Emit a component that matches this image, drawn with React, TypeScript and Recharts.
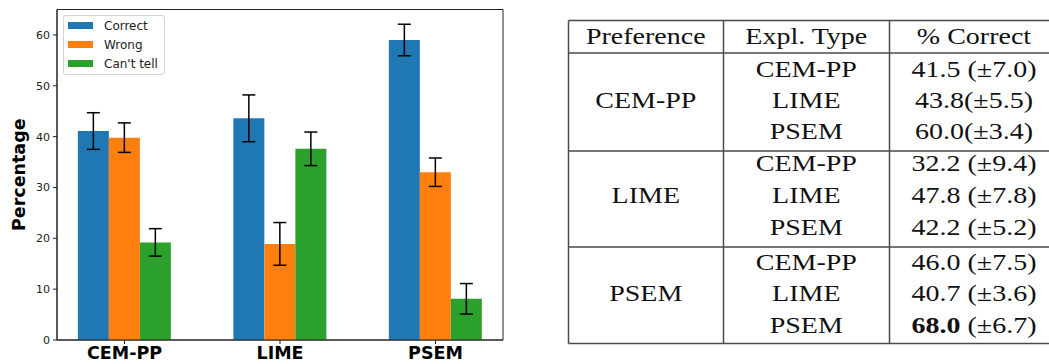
import React from "react";
import {
  BarChart,
  Bar,
  XAxis,
  YAxis,
  ErrorBar,
  Legend,
  Label,
  CartesianGrid,
} from "recharts";

// ---- chart data ----
const categories = ["CEM-PP", "LIME", "PSEM"];
const correct = [41.1, 43.6, 59.0];
const correctErr = [3.6, 4.6, 3.1];
const wrong = [39.8, 18.9, 33.0];
const wrongErr = [2.9, 4.2, 2.8];
const cantTell = [19.2, 37.6, 8.1];
const cantTellErr = [2.7, 3.3, 3.0];
const yTicks = [0, 10, 20, 30, 40, 50, 60];

const seriesNames = ["Correct", "Wrong", "Can't tell"];
const seriesColors = ["#1f77b4", "#ff7f0e", "#2ca02c"];

// ---- table data ----
const tableHeaders = ["Preference", "Expl. Type", "% Correct"];
const preferences = ["CEM-PP", "LIME", "PSEM"];
const explTypes = ["CEM-PP", "LIME", "PSEM"];
const tableMeans = ["41.5", "43.8", "60.0", "32.2", "47.8", "42.2", "46.0", "40.7", "68.0"];
const tableStds = ["7.0", "5.5", "3.4", "9.4", "7.8", "5.2", "7.5", "3.6", "6.7"];
const tableSpaced = [true, false, false, true, true, true, true, true, true];
const boldIndex = 8;

const data = categories.map((name, i) => ({
  name,
  correct: correct[i],
  correctErr: correctErr[i],
  wrong: wrong[i],
  wrongErr: wrongErr[i],
  cantTell: cantTell[i],
  cantTellErr: cantTellErr[i],
}));

const sans = "'DejaVu Sans', sans-serif";
const serif = "'Liberation Serif', serif";

const renderLegend = (props: any) => {
  const payload = [...(props.payload || [])].sort(
    (a: any, b: any) => seriesNames.indexOf(a.value) - seriesNames.indexOf(b.value)
  );
  return (
    <div
      style={{
        boxSizing: "border-box",
        width: 102,
        height: 60,
        border: "1px solid #d3d3d3",
        borderRadius: 3,
        background: "rgba(255,255,255,0.85)",
        display: "flex",
        flexDirection: "column",
        fontFamily: sans,
        fontSize: 12,
        color: "#222",
      }}
    >
      {payload.map((p: any) => (
        <div
          key={p.value}
          style={{ height: 19, display: "flex", alignItems: "center", paddingLeft: 4 }}
        >
          <div style={{ width: 25, height: 7.5, background: p.color, marginRight: 11 }} />
          <span style={{ whiteSpace: "nowrap" }}>{p.value}</span>
        </div>
      ))}
    </div>
  );
};

const colX = [645.8, 806.3, 974];
const headerBaseline = 44;
const rowBaselines = [76.7, 108, 139, 170.5, 202.5, 234.5, 269.5, 301, 332.5];
const hLines = [20.5, 53, 151, 247, 343.5];
const vLines = [568.5, 723.5, 889.5];

const TText = ({ x, y, children }: any) => (
  <text
    transform={`translate(${x} ${y}) scale(1 0.86)`}
    textAnchor="middle"
    fontFamily={serif}
    fontSize={28}
    fill="#111"
  >
    {children}
  </text>
);

const Table = () => (
  <svg
    width={1049}
    height={364}
    style={{ position: "absolute", left: 0, top: 0, pointerEvents: "none" }}
  >
    {hLines.map((y, i) => (
      <line key={"h" + i} x1={568.5} x2={1070} y1={y} y2={y} stroke="#4a4a4a" strokeWidth={1.5} />
    ))}
    {vLines.map((x, i) => (
      <line key={"v" + i} x1={x} x2={x} y1={20.5} y2={343.5} stroke="#4a4a4a" strokeWidth={1.5} />
    ))}
    {tableHeaders.map((h, i) => (
      <TText key={"th" + i} x={colX[i]} y={headerBaseline}>
        {h}
      </TText>
    ))}
    {preferences.map((p, g) => (
      <TText key={"p" + g} x={colX[0]} y={rowBaselines[g * 3 + 1]}>
        {p}
      </TText>
    ))}
    {tableMeans.map((m, i) => (
      <React.Fragment key={"r" + i}>
        <TText x={colX[1]} y={rowBaselines[i]}>
          {explTypes[i % 3]}
        </TText>
        <TText x={colX[2]} y={rowBaselines[i]}>
          <tspan fontWeight={i === boldIndex ? "bold" : "normal"}>{m}</tspan>
          <tspan>{(tableSpaced[i] ? " " : "") + "(±" + tableStds[i] + ")"}</tspan>
        </TText>
      </React.Fragment>
    ))}
  </svg>
);

export default function App() {
  return (
    <div
      style={{
        position: "fixed",
        left: 0,
        top: 0,
        width: 1049,
        height: 364,
        overflow: "hidden",
        background: "#fff",
      }}
    >
      <div style={{ position: "absolute", left: 0, top: 0 }}>
        <BarChart
          width={530}
          height={364}
          data={data}
          margin={{ top: 9.5, right: 27, bottom: 0, left: 0 }}
          barCategoryGap="20%"
          barGap={0}
        >
          <CartesianGrid
            stroke="#222"
            strokeWidth={1}
            horizontalCoordinatesGenerator={(p: any) => [p.offset.top, p.offset.top + p.offset.height]}
            verticalCoordinatesGenerator={(p: any) => [p.offset.left, p.offset.left + p.offset.width]}
          />
          <XAxis
            dataKey="name"
            height={24}
            padding={{ left: -10.25, right: -10.25 }}
            tickSize={4}
            tickMargin={3}
            axisLine={{ stroke: "#222", strokeWidth: 1 }}
            tickLine={{ stroke: "#222" }}
            tick={{ fontFamily: sans, fontSize: 17.5, fontWeight: "bold", fill: "#000" }}
            interval={0}
          />
          <YAxis
            width={57}
            domain={[0, 65]}
            ticks={yTicks}
            tickSize={4}
            tickMargin={3}
            axisLine={{ stroke: "#222", strokeWidth: 1 }}
            tickLine={{ stroke: "#222" }}
            tick={{ fontFamily: sans, fontSize: 11, fill: "#222" }}
            allowDataOverflow
          >
            <Label
              content={(props: any) => {
                const vb = props.viewBox || {};
                const cx = 18.5;
                const cy = vb.y + vb.height / 2;
                return (
                  <text
                    x={cx}
                    y={cy}
                    transform={`rotate(-90 ${cx} ${cy})`}
                    textAnchor="middle"
                    dominantBaseline="central"
                    fontFamily={sans}
                    fontSize={17.5}
                    fontWeight="bold"
                    fill="#000"
                  >
                    Percentage
                  </text>
                );
              }}
            />
          </YAxis>
          <Legend
            layout="horizontal"
            verticalAlign="middle"
            align="center"
            content={renderLegend}
            wrapperStyle={{ left: 63, top: 15, width: 102, height: 60 }}
          />
          <Bar dataKey="correct" name={seriesNames[0]} fill={seriesColors[0]} isAnimationActive={false}>
            <ErrorBar dataKey="correctErr" direction="y" width={6.5} stroke="#000" strokeWidth={1.5} />
          </Bar>
          <Bar dataKey="wrong" name={seriesNames[1]} fill={seriesColors[1]} isAnimationActive={false}>
            <ErrorBar dataKey="wrongErr" direction="y" width={6.5} stroke="#000" strokeWidth={1.5} />
          </Bar>
          <Bar dataKey="cantTell" name={seriesNames[2]} fill={seriesColors[2]} isAnimationActive={false}>
            <ErrorBar dataKey="cantTellErr" direction="y" width={6.5} stroke="#000" strokeWidth={1.5} />
          </Bar>
        </BarChart>
      </div>
      <Table />
    </div>
  );
}
